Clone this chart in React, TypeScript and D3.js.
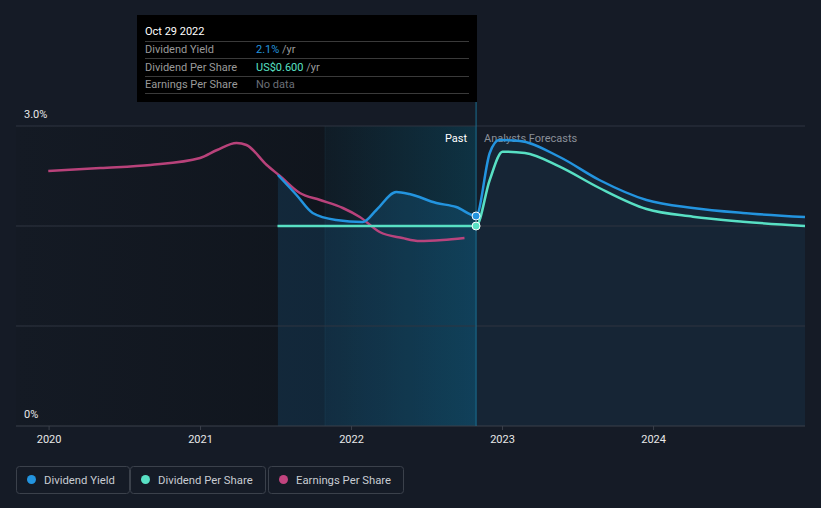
import React from "react";
import * as d3 from "d3";

const W = 821;
const H = 508;

// Dividend Yield (%)
const yieldDates = [
  "2021-07-07", "2021-08-21", "2021-09-29", "2021-11-25", "2022-01-28", "2022-03-02",
  "2022-04-19", "2022-05-21", "2022-07-25", "2022-09-11", "2022-10-29",
  "2022-12-01", "2022-12-24", "2023-02-12", "2023-05-19", "2023-08-23", "2023-12-15",
  "2024-04-05", "2024-08-04", "2025-01-01",
];
const yieldValues = [
  2.51, 2.31, 2.13, 2.06, 2.04, 2.16,
  2.34, 2.32, 2.23, 2.19, 2.1,
  2.73, 2.86, 2.85, 2.69, 2.46, 2.26,
  2.18, 2.13, 2.09,
];

// Dividend Per Share (US$)
const dpsDates = [
  "2021-07-06", "2021-11-01", "2022-03-01", "2022-07-01", "2022-10-29",
  "2022-12-01", "2023-01-01", "2023-02-24", "2023-05-19", "2023-08-23", "2023-12-15",
  "2024-04-05", "2024-08-04", "2025-01-01",
];
const dpsValues = [
  0.6, 0.6, 0.6, 0.6, 0.6,
  0.738, 0.823, 0.819, 0.778, 0.714, 0.651,
  0.628, 0.613, 0.6,
];

// Earnings Per Share (relative units)
const epsDates = [
  "2019-12-30", "2020-05-04", "2020-09-02", "2020-12-31", "2021-02-10", "2021-03-29",
  "2021-04-22", "2021-06-10", "2021-07-12", "2021-08-29", "2021-10-17", "2021-12-11",
  "2022-01-21", "2022-03-10", "2022-05-04", "2022-06-15", "2022-08-09", "2022-10-01",
];
const epsValues = [
  2.55, 2.58, 2.61, 2.68, 2.76, 2.83,
  2.81, 2.61, 2.5, 2.33, 2.26, 2.18,
  2.09, 1.94, 1.88, 1.85, 1.86, 1.88,
];

const xTickLabels = ["2020", "2021", "2022", "2023", "2024"];
const yTickValues = [0, 1, 2, 3];
const yTickLabels = ["0%", "3.0%"];

const tooltipDate = "Oct 29 2022";
const tooltipRows = [
  { label: "Dividend Yield", value: "2.1%", unit: " /yr", color: "#2394df" },
  { label: "Dividend Per Share", value: "US$0.600", unit: " /yr", color: "#58e0c4" },
  { label: "Earnings Per Share", value: "No data", unit: "", color: "#6b6f77" },
];

const legendItems = [
  { label: "Dividend Yield", color: "#2394df" },
  { label: "Dividend Per Share", color: "#58e0c4" },
  { label: "Earnings Per Share", color: "#c2447f" },
];

const parse = d3.timeParse("%Y-%m-%d");
const nowDate = parse("2022-10-29")!;
const bandStart = parse("2021-10-29")!;

export default function App() {
  const left = 16, right = 805, top = 126, bottom = 426;
  const x = d3.scaleTime()
    .domain([parse("2019-10-13")!, parse("2025-01-01")!])
    .range([left, right]);
  const yY = d3.scaleLinear().domain([0, 3]).range([bottom, top]);
  const yD = d3.scaleLinear().domain([0, 0.9]).range([bottom, top]);
  const yE = d3.scaleLinear().domain([0, 3]).range([bottom, top]);

  const yData = yieldDates.map((d, i) => ({ d: parse(d)!, v: yieldValues[i] }));
  const dData = dpsDates.map((d, i) => ({ d: parse(d)!, v: dpsValues[i] }));
  const eData = epsDates.map((d, i) => ({ d: parse(d)!, v: epsValues[i] }));

  const curve = d3.curveMonotoneX;
  const lineY = d3.line<any>().x(p => x(p.d)).y(p => yY(p.v)).curve(curve);
  const lineD = d3.line<any>().x(p => x(p.d)).y(p => yD(p.v)).curve(curve);
  const lineE = d3.line<any>().x(p => x(p.d)).y(p => yE(p.v)).curve(curve);
  const areaY = d3.area<any>().x(p => x(p.d)).y0(bottom).y1(p => yY(p.v)).curve(curve);

  const nowX = x(nowDate);
  const bandX = x(bandStart);
  const font = "Roboto, 'Noto Sans', sans-serif";

  const legendX = [16, 130, 268];
  const legendW = [113, 135, 135];

  return (
    <svg width={W} height={H} style={{ position: "absolute", left: 0, top: 0 }} fontFamily={font}>
      <defs>
        <linearGradient id="pastGrad" x1="0" x2="1" y1="0" y2="0">
          <stop offset="0" stopColor="#141a24" />
          <stop offset="1" stopColor="#0e131a" />
        </linearGradient>
        <linearGradient id="bandGrad" x1="0" x2="1" y1="0" y2="0">
          <stop offset="0" stopColor="#0f6a8c" stopOpacity="0.08" />
          <stop offset="1" stopColor="#0f6a8c" stopOpacity="0.36" />
        </linearGradient>
        <clipPath id="pastClip">
          <rect x={left} y={top} width={nowX - left} height={bottom - top} />
        </clipPath>
        <clipPath id="futClip">
          <rect x={nowX} y={top} width={right - nowX} height={bottom - top} />
        </clipPath>
      </defs>
      <rect x={0} y={0} width={W} height={H} fill="#151b26" />
      <rect x={left} y={top} width={nowX - left} height={bottom - top} fill="url(#pastGrad)" />
      <rect x={bandX} y={top} width={nowX - bandX} height={bottom - top} fill="url(#bandGrad)" />
      <line x1={bandX} x2={bandX} y1={top} y2={bottom} stroke="#1c3a4a" strokeWidth={1} opacity={0.35} />

      <path d={areaY(yData) || ""} fill="#2394df" opacity={0.15} clipPath="url(#pastClip)" />
      <path d={areaY(yData) || ""} fill="#2394df" opacity={0.085} clipPath="url(#futClip)" />

      {yTickValues.slice(1).map(v => (
        <line key={v} x1={left} x2={right} y1={yY(v)} y2={yY(v)} stroke="#2f3540" strokeWidth={1} />
      ))}
      <line x1={left} x2={right} y1={bottom} y2={bottom} stroke="#3b414b" strokeWidth={1} />
      {xTickLabels.map(t => {
        const xx = x(parse(`${t}-01-01`)!);
        return (
          <g key={t}>
            <line x1={xx} x2={xx} y1={bottom} y2={bottom + 4} stroke="#3b414b" />
            <text x={xx} y={443} fill="#e8e8e8" fontSize={11} textAnchor="middle">{t}</text>
          </g>
        );
      })}
      <text x={24} y={118} fill="#e8e8e8" fontSize={11}>{yTickLabels[1]}</text>
      <text x={24} y={418} fill="#e8e8e8" fontSize={11}>{yTickLabels[0]}</text>

      <line x1={nowX} x2={nowX} y1={101} y2={bottom} stroke="#1a6e92" strokeWidth={1} />
      <text x={nowX - 9} y={142} fill="#ffffff" fontSize={11} textAnchor="end">Past</text>
      <text x={nowX + 8} y={142} fill="#8a8f98" fontSize={11}>Analysts Forecasts</text>

      <path d={lineE(eData) || ""} fill="none" stroke="#c2447f" strokeWidth={2.5} opacity={0.95} />
      <path d={lineY(yData) || ""} fill="none" stroke="#2394df" strokeWidth={2.5} />
      <path d={lineD(dData) || ""} fill="none" stroke="#58e0c4" strokeWidth={2.5} />

      <circle cx={nowX} cy={yY(2.1)} r={4} fill="#2394df" stroke="#ffffff" strokeWidth={1} />
      <circle cx={nowX} cy={yD(0.6)} r={4} fill="#58e0c4" stroke="#ffffff" strokeWidth={1} />

      <rect x={137} y={15} width={340} height={87} fill="#000000" />
      <text x={145} y={35} fill="#ffffff" fontSize={11}>{tooltipDate}</text>
      {[41, 58, 76, 93].map(yy => (
        <line key={yy} x1={145} x2={469} y1={yy + 0.5} y2={yy + 0.5} stroke="#3a3a3a" strokeWidth={1} />
      ))}
      {tooltipRows.map((r, i) => (
        <g key={r.label}>
          <text x={145} y={53 + i * 17.7} fill="#9a9a9a" fontSize={11}>{r.label}</text>
          <text x={256} y={53 + i * 17.7} fontSize={11}>
            <tspan fill={r.color}>{r.value}</tspan>
            <tspan fill="#9a9a9a">{r.unit}</tspan>
          </text>
        </g>
      ))}

      {legendItems.map((it, i) => (
        <g key={it.label}>
          <rect x={legendX[i] + 0.5} y={466.5} width={legendW[i]} height={27} rx={3} fill="none" stroke="#3b414b" />
          <circle cx={legendX[i] + 15.5} cy={479.5} r={4.5} fill={it.color} />
          <text x={legendX[i] + 28} y={484} fill="#c8ccd2" fontSize={11.3}>{it.label}</text>
        </g>
      ))}
    </svg>
  );
}
